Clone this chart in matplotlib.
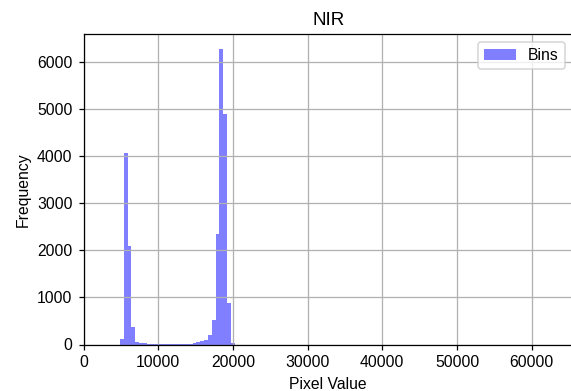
import numpy as np
import matplotlib
matplotlib.use("Agg")
import matplotlib.pyplot as plt

plt.rcParams['font.family'] = ['Liberation Sans', 'DejaVu Sans']

# histogram of NIR band, 30 bins between data min and max
bin_min = 4870
bin_max = 20230
counts = [113, 4071, 2092, 376, 45, 30, 22, 12, 8, 6,
          5, 4, 4, 5, 6, 8, 10, 12, 18, 28,
          45, 72, 90, 205, 518, 2348, 6290, 4900, 879, 35]
edges = np.linspace(bin_min, bin_max, len(counts) + 1)
xticks = [0, 10000, 20000, 30000, 40000, 50000, 60000]

DPI = 113
fig = plt.figure(figsize=(571 / DPI, 391 / DPI), dpi=DPI)
ax = fig.add_axes([83.6 / 571, 1 - 344.5 / 391, (573 - 83.6) / 571, (344.5 - 34) / 391])

ax.hist(edges[:-1], bins=edges, weights=counts, color='blue', alpha=0.5, label='Bins')
ax.set_xlim(0, 65535)
ax.set_xticks(xticks)
ax.set_title('NIR', fontsize=12)
ax.set_xlabel('Pixel Value')
ax.set_ylabel('Frequency')
ax.grid(True)
ax.legend(loc='upper right')

fig.savefig('out.png', dpi=DPI)
